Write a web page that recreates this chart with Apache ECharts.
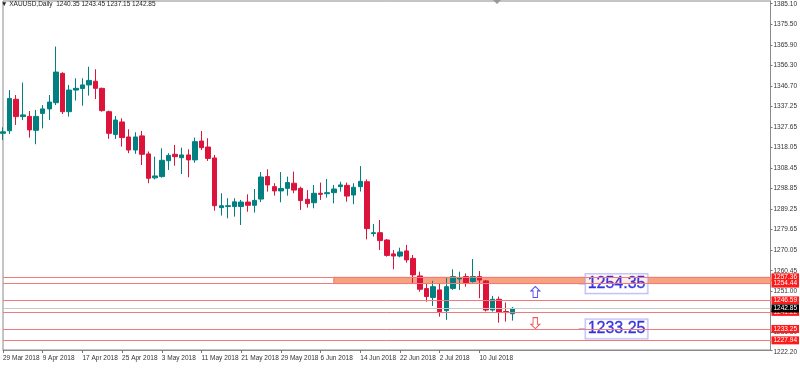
<!DOCTYPE html>
<html><head><meta charset="utf-8">
<script src="https://cdn.jsdelivr.net/npm/echarts@6/dist/echarts.min.js"></script>
<style>html,body{margin:0;padding:0;background:#fff}#c{width:800px;height:371px}</style>
</head><body><div id="c"></div>
<script>
const symbolName = 'XAUUSD', timeframe = 'Daily';
const dates = ['29 Mar 2018','2 Apr 2018','3 Apr 2018','4 Apr 2018','5 Apr 2018','6 Apr 2018','9 Apr 2018','10 Apr 2018','11 Apr 2018','12 Apr 2018','13 Apr 2018','16 Apr 2018','17 Apr 2018','18 Apr 2018','19 Apr 2018','20 Apr 2018','23 Apr 2018','24 Apr 2018','25 Apr 2018','26 Apr 2018','27 Apr 2018','30 Apr 2018','1 May 2018','2 May 2018','3 May 2018','4 May 2018','7 May 2018','8 May 2018','9 May 2018','10 May 2018','11 May 2018','14 May 2018','15 May 2018','16 May 2018','17 May 2018','18 May 2018','21 May 2018','22 May 2018','23 May 2018','24 May 2018','25 May 2018','28 May 2018','29 May 2018','30 May 2018','31 May 2018','1 Jun 2018','4 Jun 2018','5 Jun 2018','6 Jun 2018','7 Jun 2018','8 Jun 2018','11 Jun 2018','12 Jun 2018','13 Jun 2018','14 Jun 2018','15 Jun 2018','18 Jun 2018','19 Jun 2018','20 Jun 2018','21 Jun 2018','22 Jun 2018','25 Jun 2018','26 Jun 2018','27 Jun 2018','28 Jun 2018','29 Jun 2018','2 Jul 2018','3 Jul 2018','4 Jul 2018','5 Jul 2018','6 Jul 2018','9 Jul 2018','10 Jul 2018','11 Jul 2018','12 Jul 2018','13 Jul 2018','16 Jul 2018','17 Jul 2018'];
const open  = [1324.6,1325.8,1340.5,1332.4,1332.5,1326.0,1333.9,1336.0,1338.9,1352.6,1334.7,1344.8,1345.5,1347.2,1348.9,1345.6,1334.7,1324.1,1329.9,1322.9,1316.8,1323.4,1315.0,1303.8,1304.4,1311.8,1314.8,1313.2,1314.5,1312.2,1321.0,1318.2,1313.1,1289.9,1290.4,1290.4,1290.4,1292.5,1291.0,1293.9,1304.4,1299.7,1297.7,1298.9,1301.3,1298.9,1293.8,1292.2,1296.6,1296.4,1296.9,1299.7,1300.3,1295.8,1299.7,1302.0,1277.8,1278.2,1274.8,1268.3,1267.3,1269.7,1266.2,1258.0,1252.1,1248.0,1251.5,1241.8,1252.2,1256.6,1257.7,1255.4,1257.7,1255.7,1242.1,1247.1,1241.4,1240.35];
const high  = [1327.4,1344.8,1342.5,1348.3,1335.0,1335.5,1337.8,1342.5,1365.1,1353.1,1347.2,1350.3,1350.3,1355.7,1354.5,1345.9,1335.2,1332.7,1331.6,1326.5,1325.1,1325.7,1316.1,1313.7,1317.6,1315.3,1319.2,1317.9,1317.1,1322.6,1325.7,1322.3,1314.5,1296.6,1294.3,1294.3,1293.5,1296.1,1298.6,1306.5,1307.8,1301.3,1306.5,1304.4,1306.7,1299.7,1298.1,1300.5,1301.6,1303.3,1300.5,1302.0,1301.6,1301.3,1309.3,1303.1,1282.3,1284.1,1275.2,1270.1,1271.2,1272.5,1267.8,1260.0,1254.3,1255.7,1254.6,1257.4,1261.1,1260.0,1259.2,1265.9,1260.3,1256.1,1248.7,1248.4,1245.6,1243.45];
const low   = [1321.5,1324.3,1328.5,1330.8,1322.6,1319.5,1326.9,1330.8,1337.8,1333.6,1332.4,1339.9,1337.5,1342.2,1340.6,1334.7,1322.0,1322.0,1318.4,1315.3,1315.0,1309.8,1301.3,1303.1,1303.9,1307.5,1309.5,1305.6,1304.1,1310.9,1316.8,1311.7,1288.5,1286.2,1284.9,1285.7,1281.8,1288.0,1287.6,1292.5,1297.4,1295.5,1292.4,1295.5,1296.6,1288.8,1289.9,1289.6,1293.5,1294.6,1291.9,1297.4,1292.7,1291.5,1297.4,1275.1,1276.4,1270.1,1267.0,1261.1,1266.7,1264.2,1254.6,1250.7,1246.0,1244.0,1239.0,1237.5,1251.5,1251.5,1253.0,1254.9,1247.6,1241.4,1241.4,1236.2,1236.7,1237.15];
const close = [1325.3,1340.9,1332.4,1333.2,1326.2,1332.5,1336.0,1339.2,1353.2,1334.7,1344.8,1345.6,1347.2,1349.3,1345.6,1335.2,1324.6,1330.8,1322.6,1316.8,1322.9,1314.8,1303.6,1304.7,1312.0,1314.3,1313.7,1314.5,1312.2,1320.7,1317.9,1312.9,1290.8,1290.8,1290.8,1292.6,1292.5,1291.0,1293.3,1304.2,1300.5,1297.7,1298.8,1301.6,1298.1,1293.2,1291.8,1296.6,1296.1,1296.9,1298.6,1300.5,1295.3,1299.4,1302.2,1280.1,1278.2,1274.5,1267.6,1267.3,1269.2,1265.5,1258.5,1251.8,1248.4,1253.0,1241.4,1253.0,1257.7,1257.2,1254.9,1257.7,1256.1,1242.1,1247.1,1241.0,1240.9,1242.85];
const futureSlots = 39;
const yTickValues = [1385.10,1375.50,1365.90,1356.30,1346.70,1337.25,1327.65,1318.05,1308.45,1298.85,1289.25,1279.65,1270.05,1260.45,1251.00,1241.40,1231.80,1222.20];
const levelLines = [1257.36,1254.44,1246.59,1241.22,1233.25,1227.94];
const currentPrice = 1242.85;
const zoneStart = '8 Jun 2018';
const zoneTop = 1257.36, zoneBottom = 1254.44;
const targetValues = [1254.35, 1233.25];
const targetSlot = 87;
const arrowUpValue = [1250.5], arrowDownValue = [1236.0];
const arrowSlot = 80;

const yMin = 1223.43, yMax = 1386.38;
const FONT = '"Liberation Sans Narrow","Liberation Sans",Arial,sans-serif';
const cats = dates.concat(Array.from({length: futureSlots}, (_, k) => '+' + k));
const tickPos = yTickValues.map(v => Math.max(v, yMin));
const lastIdx = dates.length - 1;

const chart = echarts.init(document.getElementById('c'), null, {renderer: 'canvas'});
const option = {
  animation: false,
  backgroundColor: '#fff',
  title: {
    text: '\u25BC ' + symbolName + ',' + timeframe + '  ' + [open[lastIdx], high[lastIdx], low[lastIdx], close[lastIdx]].map(v => v.toFixed(2)).join(' '),
    left: 1, top: 1, padding: 0,
    textStyle: {fontSize: 6.5, fontWeight: 'normal', color: '#222', fontFamily: FONT}
  },
  graphic: [{type: 'polygon', shape: {points: [[493, 0], [501, 0], [497, 4]]}, style: {fill: '#999'}}],
  grid: {left: 0, right: 26, top: 1, bottom: 21, show: true, borderColor: '#8a8a8a', borderWidth: 1, backgroundColor: 'transparent'},
  xAxis: {
    type: 'category', data: cats, boundaryGap: false,
    axisLine: {show: true, lineStyle: {color: '#8a8a8a'}},
    axisTick: {show: true, length: 3, interval: (i) => i % 6 === 0 && i <= lastIdx, lineStyle: {color: '#777'}},
    axisLabel: {interval: (i) => i % 6 === 0 && i <= lastIdx, align: 'left', margin: 5, fontSize: 6.5, color: '#333', fontFamily: FONT},
    splitLine: {show: false}
  },
  yAxis: {
    type: 'value', position: 'right', min: yMin, max: yMax, scale: true,
    axisLine: {show: true, lineStyle: {color: '#8a8a8a'}},
    axisTick: {show: true, length: 2, customValues: tickPos, lineStyle: {color: '#777'}},
    axisLabel: {
      customValues: tickPos, margin: 3, fontSize: 6.5, color: '#333', fontFamily: FONT,
      formatter: (v) => {
        let best = 0, bd = Infinity;
        tickPos.forEach((p, i) => { const d = Math.abs(p - v); if (d < bd) { bd = d; best = i; } });
        const t = yTickValues[best].toFixed(2);
        return yTickValues[best] < yMin ? '{low|' + t + '}' : t;
      },
      rich: {low: {fontSize: 6.5, color: '#333', fontFamily: FONT, padding: [4, 0, 0, 0]}}
    },
    splitLine: {show: false}
  },
  series: [
    {
      type: 'candlestick', barWidth: 5,
      data: dates.map((d, i) => [open[i], close[i], low[i], high[i]]),
      itemStyle: {color: '#008080', color0: '#DC143C', borderColor: '#008080', borderColor0: '#DC143C', borderWidth: 1},
      markArea: {
        silent: true,
        itemStyle: {color: '#F7A27E', borderColor: '#F07A55', borderWidth: 1},
        data: [[{xAxis: dates.indexOf(zoneStart), yAxis: zoneTop}, {xAxis: cats.length - 1, yAxis: zoneBottom}]]
      },
      markLine: {
        silent: true, symbol: 'none', animation: false,
        label: {position: 'end', distance: 1, fontSize: 6.5, fontFamily: FONT, color: '#fff', padding: [1, 2, 0, 2], formatter: (p) => p.value.toFixed(2)},
        data: levelLines.map(v => ({yAxis: v, lineStyle: {color: '#F27A7A', width: 1, type: 'solid'}, label: {backgroundColor: '#FF1A1A'}}))
          .concat([{yAxis: currentPrice, lineStyle: {color: '#C8C8C8', width: 1, type: 'solid'}, label: {backgroundColor: '#000'}}])
      }
    },
    {
      type: 'scatter', silent: true,
      symbol: 'path://M4,0 L8,4 L6,4 L6,10 L2,10 L2,4 L0,4 Z', symbolSize: [9, 11], symbolOffset: [3, 0],
      itemStyle: {color: '#fff', borderColor: '#2626F0', borderWidth: 1},
      data: arrowUpValue.map(v => [arrowSlot, v])
    },
    {
      type: 'scatter', silent: true,
      symbol: 'path://M2,0 L6,0 L6,6 L8,6 L4,10 L0,6 L2,6 Z', symbolSize: [9, 11], symbolOffset: [3, 0],
      itemStyle: {color: '#fff', borderColor: '#F03030', borderWidth: 1},
      data: arrowDownValue.map(v => [arrowSlot, v])
    },
    {
      type: 'scatter', silent: true,
      symbol: 'rect', symbolSize: [7, 1], symbolOffset: [3.5, 0],
      itemStyle: {color: '#6060E0'},
      label: {
        show: true, position: 'right', distance: 0,
        formatter: (p) => p.value[1].toFixed(2),
        fontSize: 16, color: '#0A0ADC', fontFamily: 'Arial,"Liberation Sans",sans-serif',
        backgroundColor: '#fff', borderColor: '#A0A0F0', borderWidth: 1, padding: [2, 2, 1, 2],
        textBorderColor: '#0A0ADC', textBorderWidth: 0.3
      },
      data: targetValues.map(v => [targetSlot, v])
    }
  ]
};
chart.setOption(option);
</script></body></html>
